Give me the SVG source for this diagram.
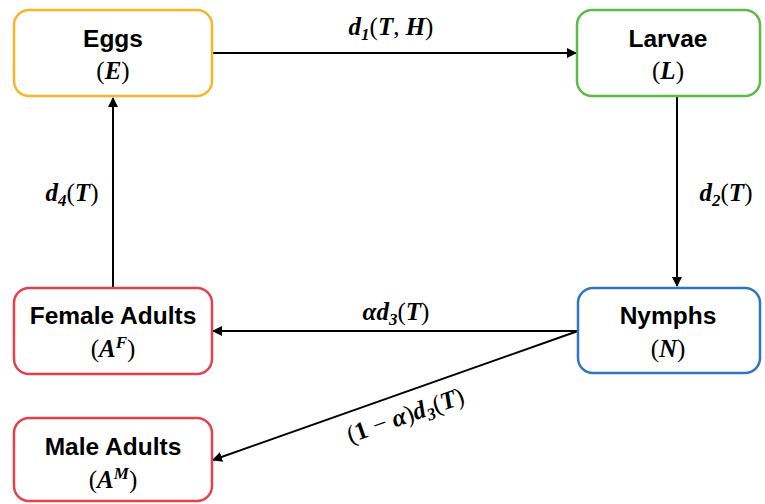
<svg xmlns="http://www.w3.org/2000/svg" width="765" height="504" viewBox="0 0 765 504">
<style>
.box{fill:#fff;stroke-width:2.5}
.t{font-family:"Liberation Sans",Arial,sans-serif;font-weight:bold;font-size:24.5px;text-anchor:middle;fill:#000}
.m{font-family:"Liberation Serif","DejaVu Serif",serif;font-size:25px;text-anchor:middle;fill:#000}
.v{font-style:italic;font-weight:bold}
.s{font-size:17px}
.c{stroke:#000;stroke-width:2;fill:none;marker-end:url(#ah)}
</style>
<defs>
<marker id="ah" viewBox="0 0 10 10" refX="9" refY="5" markerWidth="5" markerHeight="5" orient="auto" markerUnits="strokeWidth">
<path d="M0,0 L10,5 L0,10 z" fill="#000"/>
</marker>
</defs>
<g id="connectors">
<line class="c" x1="212" y1="53" x2="576" y2="53"/>
<line class="c" x1="677" y1="97" x2="677" y2="286"/>
<line class="c" x1="578" y1="331" x2="213" y2="331"/>
<line class="c" x1="578" y1="331" x2="213" y2="460"/>
<line class="c" x1="113" y1="287" x2="113" y2="98"/>
<text class="m" x="391" y="35"><tspan class="v">d</tspan><tspan class="v s" dy="5">1</tspan><tspan dy="-5">(</tspan><tspan class="v">T</tspan>, <tspan class="v">H</tspan>)</text>
<text class="m" x="726" y="201"><tspan class="v">d</tspan><tspan class="v s" dy="5">2</tspan><tspan dy="-5">(</tspan><tspan class="v">T</tspan>)</text>
<text class="m" x="72" y="201"><tspan class="v">d</tspan><tspan class="v s" dy="5">4</tspan><tspan dy="-5">(</tspan><tspan class="v">T</tspan>)</text>
<text class="m" x="396" y="320"><tspan class="v">αd</tspan><tspan class="v s" dy="5">3</tspan><tspan dy="-5">(</tspan><tspan class="v">T</tspan>)</text>
<text class="m" transform="translate(408,423) rotate(-19.4)"><tspan>(</tspan><tspan font-weight="bold">1</tspan> − <tspan class="v">α</tspan>)<tspan class="v">d</tspan><tspan class="v s" dy="5">3</tspan><tspan dy="-5">(</tspan><tspan class="v">T</tspan>)</text>
</g>
<g id="eggs">
<rect class="box" x="14" y="10" width="198" height="86" rx="15" stroke="#F9B527"/>
<text class="t" x="113" y="47">Eggs</text>
<text class="m" x="113" y="79">(<tspan class="v">E</tspan>)</text>
</g>
<g id="larvae">
<rect class="box" x="577" y="10" width="183" height="86" rx="15" stroke="#5CBB46"/>
<text class="t" x="668" y="47">Larvae</text>
<text class="m" x="668" y="79">(<tspan class="v">L</tspan>)</text>
</g>
<g id="nymphs">
<rect class="box" x="578" y="288" width="182" height="85" rx="15" stroke="#2E75C6"/>
<text class="t" x="668" y="324">Nymphs</text>
<text class="m" x="668" y="357">(<tspan class="v">N</tspan>)</text>
</g>
<g id="female">
<rect class="box" x="14" y="288" width="198" height="86" rx="15" stroke="#E5414A"/>
<text class="t" x="113" y="324">Female Adults</text>
<text class="m" x="113" y="357">(<tspan class="v">A</tspan><tspan class="v s" dy="-9">F</tspan><tspan dy="9">)</tspan></text>
</g>
<g id="male">
<rect class="box" x="14" y="418" width="198" height="83" rx="15" stroke="#E5414A"/>
<text class="t" x="113" y="455">Male Adults</text>
<text class="m" x="113" y="488">(<tspan class="v">A</tspan><tspan class="v s" dy="-9">M</tspan><tspan dy="9">)</tspan></text>
</g>
</svg>
